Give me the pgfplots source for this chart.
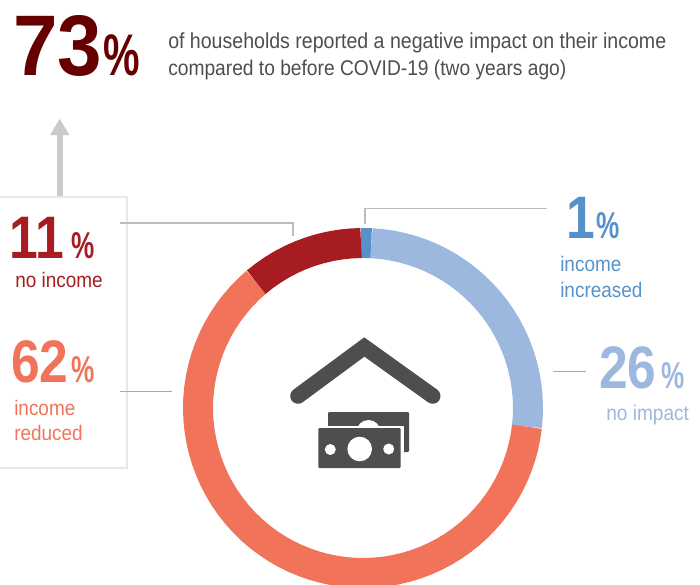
\documentclass[border=0pt]{standalone}
\usepackage{fontspec}
\setmainfont{Liberation Sans}[FakeStretch=0.9]
\newfontface\numfont{Liberation Sans Bold}[FakeStretch=0.86]
\newfontface\bignum{Liberation Sans Bold}[FakeStretch=0.93]
\newfontface\pctfont{Liberation Sans Bold}[FakeStretch=0.7]
\usepackage{pgfplots}
\usepackage{pgfplotstable}
\usepgfplotslibrary{polar}
\pgfplotsset{compat=1.18}
\definecolor{cdark}{HTML}{660000}
\definecolor{cred}{HTML}{A61C20}
\definecolor{ccoral}{HTML}{F0735A}
\definecolor{cblue}{HTML}{5591CB}
\definecolor{clight}{HTML}{9DB8DF}
\definecolor{ctext}{HTML}{4D4E50}
\definecolor{cbox}{HTML}{E6E7E8}
\definecolor{clead}{HTML}{BBBDBF}
\definecolor{cleadd}{HTML}{A7A9AC}
\definecolor{carrow}{HTML}{C8CACC}
\newcommand{\fs}[1]{\fontsize{#1}{#1}\selectfont}
% share of households, as running percent along the ring
\pgfplotstableread[row sep=\\]{pct r\\ 0 165\\ 0.5 165\\ 1 165\\}\tabIncreased
\pgfplotstableread[row sep=\\]{pct r\\ 1 165\\ 2 165\\ 3 165\\ 4 165\\ 5 165\\ 6 165\\ 7 165\\ 8 165\\ 9 165\\ 10 165\\ 11 165\\ 12 165\\ 13 165\\ 14 165\\ 15 165\\ 16 165\\ 17 165\\ 18 165\\ 19 165\\ 20 165\\ 21 165\\ 22 165\\ 23 165\\ 24 165\\ 25 165\\ 26 165\\ 27 165\\}\tabNoImpact
\pgfplotstableread[row sep=\\]{pct r\\ 27 165\\ 28 165\\ 29 165\\ 30 165\\ 31 165\\ 32 165\\ 33 165\\ 34 165\\ 35 165\\ 36 165\\ 37 165\\ 38 165\\ 39 165\\ 40 165\\ 41 165\\ 42 165\\ 43 165\\ 44 165\\ 45 165\\ 46 165\\ 47 165\\ 48 165\\ 49 165\\ 50 165\\ 51 165\\ 52 165\\ 53 165\\ 54 165\\ 55 165\\ 56 165\\ 57 165\\ 58 165\\ 59 165\\ 60 165\\ 61 165\\ 62 165\\ 63 165\\ 64 165\\ 65 165\\ 66 165\\ 67 165\\ 68 165\\ 69 165\\ 70 165\\ 71 165\\ 72 165\\ 73 165\\ 74 165\\ 75 165\\ 76 165\\ 77 165\\ 78 165\\ 79 165\\ 80 165\\ 81 165\\ 82 165\\ 83 165\\ 84 165\\ 85 165\\ 86 165\\ 87 165\\ 88 165\\ 89 165\\}\tabReduced
\pgfplotstableread[row sep=\\]{pct r\\ 89 165\\ 90 165\\ 91 165\\ 92 165\\ 93 165\\ 94 165\\ 95 165\\ 96 165\\ 97 165\\ 98 165\\ 99 165\\ 100 165\\}\tabNoIncome
\begin{document}
\begin{tikzpicture}[x=.75pt,y=-.75pt]
\useasboundingbox (0,0) rectangle (700,585);
\clip (0,0) rectangle (700,585);
\coordinate (ringcentre) at (363,408);
% headline
\node[anchor=base west,inner sep=0,text=cdark,font=\bignum\fs{64.5}] at (13,75) {73};
\node[anchor=base west,inner sep=0,text=cdark,font=\pctfont\fs{44}] at (103,75) {\%};
\node[anchor=base west,inner sep=0,text=ctext,align=left,font=\fontsize{16.3}{20.25}\selectfont] at (168,75) {of households reported a negative impact on their income\\{\fontsize{16}{20.25}\selectfont compared to before COVID-19 (two years ago)}};
% arrow and box
\fill[carrow] (57,197) rectangle (62.5,135);
\fill[carrow] (50,135) -- (59.7,119) -- (69.5,135) -- cycle;
\draw[cbox,line width=2pt] (-10,197) -- (127,197) -- (127,468) -- (-10,468);
% leaders
\draw[clead,line width=1.1pt] (120,223) -- (293,223) -- (293,236);
\draw[clead,line width=1.1pt] (547,208.5) -- (365,208.5) -- (365,224);
\draw[cleadd,line width=1.1pt] (553,371.5) -- (586,371.5);
\draw[cleadd,line width=1.1pt] (120,391.5) -- (172,391.5);
% ring
\begin{polaraxis}[at={(ringcentre)},anchor=center,scale only axis,width=270pt,height=270pt,
  hide axis,clip=false,xmin=0,xmax=360,ymin=0,ymax=180]
\addplot[no marks,line width=22.5pt,line cap=butt,line join=round,color=cblue] table[x expr={90.7-3.6*\thisrow{pct}},y=r] {\tabIncreased};
\addplot[no marks,line width=22.5pt,line cap=butt,line join=round,color=clight] table[x expr={90.7-3.6*\thisrow{pct}},y=r] {\tabNoImpact};
\addplot[no marks,line width=22.5pt,line cap=butt,line join=round,color=ccoral] table[x expr={90.7-3.6*\thisrow{pct}},y=r] {\tabReduced};
\addplot[no marks,line width=22.5pt,line cap=butt,line join=round,color=cred] table[x expr={90.7-3.6*\thisrow{pct}},y=r] {\tabNoIncome};
\end{polaraxis}
% labels
\node[anchor=base west,inner sep=0,text=cred,font=\numfont\fs{45}] at (9,258) {11};
\node[anchor=base west,inner sep=0,text=cred,font=\pctfont\fs{28}] at (71,258) {\%};
\node[anchor=base west,inner sep=0,text=cred,font=\fs{15.8}] at (15,287) {no income};
\node[anchor=base west,inner sep=0,text=ccoral,font=\numfont\fs{45}] at (11,382) {62};
\node[anchor=base west,inner sep=0,text=ccoral,font=\pctfont\fs{28}] at (71,382) {\%};
\node[anchor=base west,inner sep=0,text=ccoral,font=\fs{15.8}] at (14,415) {income};
\node[anchor=base west,inner sep=0,text=ccoral,font=\fs{15.8}] at (14,440) {reduced};
\node[anchor=base west,inner sep=0,text=cblue,font=\numfont\fs{45}] at (566,238) {1};
\node[anchor=base west,inner sep=0,text=cblue,font=\pctfont\fs{28}] at (596,238) {\%};
\node[anchor=base west,inner sep=0,text=cblue,font=\fs{15.8}] at (560,271) {income};
\node[anchor=base west,inner sep=0,text=cblue,font=\fs{15.8}] at (560,297) {increased};
\node[anchor=base west,inner sep=0,text=clight,font=\numfont\fs{45}] at (599,388) {26};
\node[anchor=base west,inner sep=0,text=clight,font=\pctfont\fs{28}] at (661,388) {\%};
\node[anchor=base west,inner sep=0,text=clight,font=\fs{15.9}] at (606,420) {no impact};
% house and money icon
\draw[ctext,line width=11.7pt,line cap=round,line join=miter] (298,396) -- (364.3,347) -- (432.7,396);
\fill[ctext,rounded corners=.8pt] (328,412) rectangle (409,452);
\fill[white] (368.5,432) circle[radius=12];
\fill[white] (316,426) rectangle (403.5,470);
\fill[ctext,rounded corners=.8pt] (318.3,428) rectangle (400.7,468);
\fill[white] (359.7,449) circle[radius=12.3];
\fill[white] (330.3,449.5) circle[radius=5.5];
\fill[white] (388.7,449) circle[radius=5.5];
\end{tikzpicture}
\end{document}
